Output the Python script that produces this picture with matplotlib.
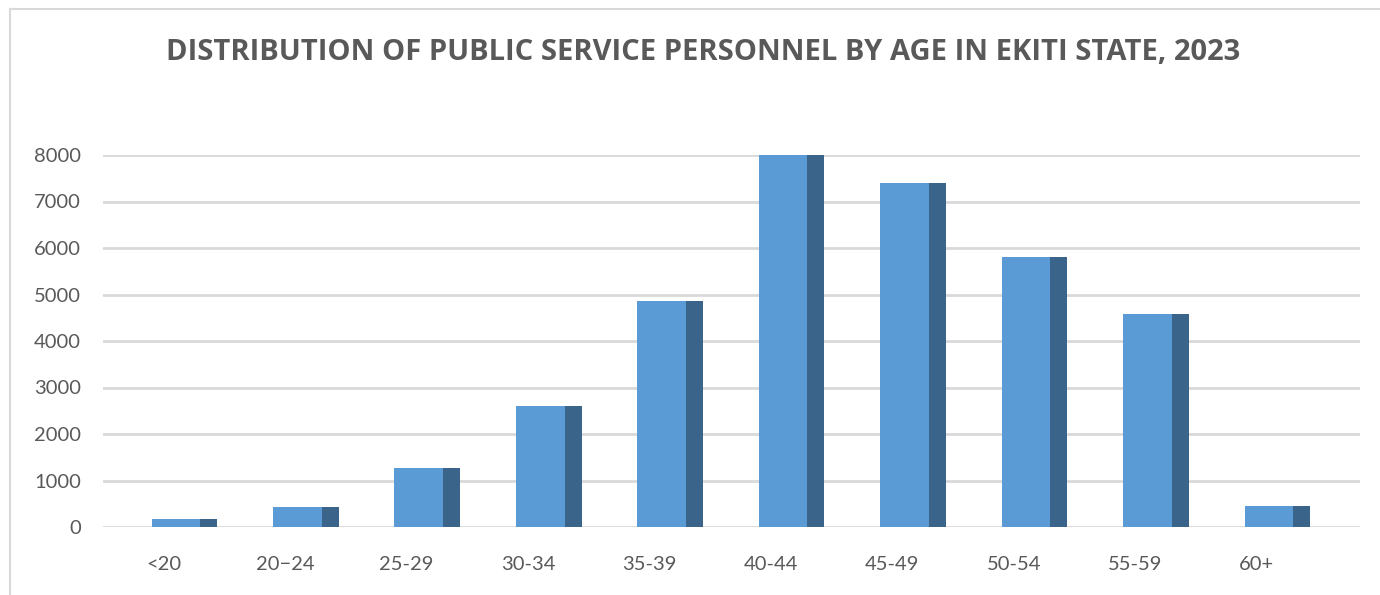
import matplotlib
matplotlib.use("Agg")
import matplotlib.pyplot as plt
import numpy as np
from matplotlib.lines import Line2D

# Data
age_groups = ["<20", "20\u221224", "25-29", "30-34", "35-39", "40-44", "45-49", "50-54", "55-59", "60+"]
personnel = [180, 430, 1275, 2610, 4870, 7990, 7400, 5810, 4590, 450]
y_ticks = [0, 1000, 2000, 3000, 4000, 5000, 6000, 7000, 8000]

TITLE = "DISTRIBUTION OF PUBLIC SERVICE PERSONNEL BY AGE IN EKITI STATE, 2023"
TEXT_COLOR = "#595959"
GRID_COLOR = "#d9d9d9"
FRONT_COLOR = "#5b9bd5"
SIDE_COLOR = "#3a6489"

W, H = 1380, 595
plt.rcParams["font.family"] = ["Lato", "DejaVu Sans"]

fig = plt.figure(figsize=(W / 100, H / 100), dpi=100)
ax = fig.add_axes([103 / W, (H - 527) / H, (1360 - 103) / W, (527 - 155) / H])

x = np.arange(len(age_groups))
# front face and darker side face give the flat "3D" look
ax.bar(x - 0.10, personnel, width=0.40, align="edge", color=FRONT_COLOR, zorder=3)
ax.bar(x + 0.30, personnel, width=0.14, align="edge", color=SIDE_COLOR, zorder=3)

ax.set_xlim(-0.5, 9.85)
ax.set_ylim(0, 8000)
ax.set_xticks(x)
ax.set_xticklabels(age_groups)
ax.set_yticks(y_ticks)
ax.yaxis.grid(True, color=GRID_COLOR, lw=2)
ax.set_axisbelow(True)
for s in ax.spines.values():
    s.set_visible(False)
ax.tick_params(axis="both", length=0, labelsize=14.5, labelcolor=TEXT_COLOR)
ax.tick_params(axis="x", pad=21)
ax.tick_params(axis="y", pad=16)

fig.text(703 / W, 1 - 52 / H, TITLE, ha="center", va="center",
         fontsize=21, fontweight="bold", color=TEXT_COLOR,
         family=["Open Sans", "DejaVu Sans"])

# chart frame (only top and left edges visible in the crop)
fig.add_artist(Line2D([9.5 / W, 9.5 / W], [0, 1 - 8.5 / H], color=GRID_COLOR, lw=1.5))
fig.add_artist(Line2D([9.5 / W, 1], [1 - 8.5 / H, 1 - 8.5 / H], color=GRID_COLOR, lw=1.5))

fig.savefig("out.png", dpi=100, facecolor="white")
